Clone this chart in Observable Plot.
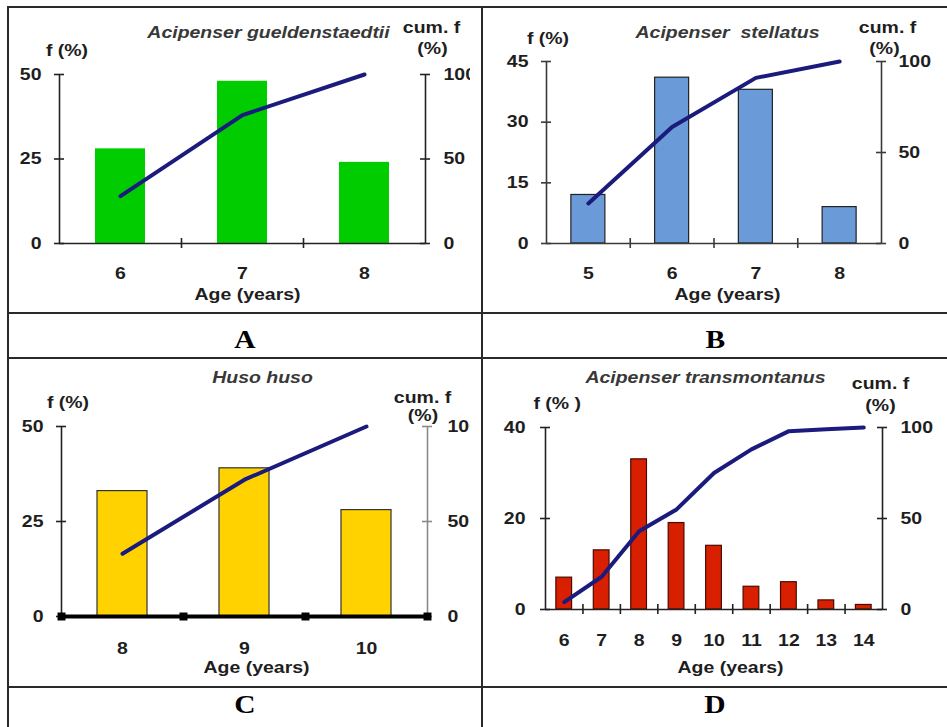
<!DOCTYPE html>
<html><head><meta charset="utf-8">
<script src="https://cdn.jsdelivr.net/npm/d3@7"></script>
<script src="https://cdn.jsdelivr.net/npm/@observablehq/plot@0.6"></script>
<style>
body{margin:0;background:#fff;width:947px;height:727px;overflow:hidden;position:relative;font-family:"Liberation Sans",Arial,sans-serif;}
.ln{position:absolute;background:#2a2a2a;}
.cell{position:absolute;}
.lab{position:absolute;font-family:"Liberation Serif","Times New Roman",serif;font-weight:bold;font-size:25px;line-height:25px;text-align:center;color:#000;}
.lab span{display:inline-block;transform:scaleX(1.18);}
</style></head><body>
<script>
// ---------- data ----------
const agesA = [6, 7, 8];
const fA = [28, 48, 24];
const cumA = [28, 76, 100];

const agesB = [5, 6, 7, 8];
const fB = [12, 41, 38, 9];
const cumB = [22, 64, 91, 100];

const agesC = [8, 9, 10];
const fC = [33, 39, 28];
const cumC = [33, 72, 100];

const agesD = [6, 7, 8, 9, 10, 11, 12, 13, 14];
const fD = [7, 13, 33, 19, 14, 5, 6, 2, 1];
const cumD = [4, 18, 43, 55, 75, 88, 98, 99, 100];

const fTicksA = [0, 25, 50];
const fTicksB = [0, 15, 30, 45];
const fTicksC = [0, 25, 50];
const fTicksD = [0, 20, 40];
const cumTicks = [0, 50, 100];

const titles = ["Acipenser gueldenstaedtii", "Acipenser  stellatus", "Huso huso", "Acipenser transmontanus"];
const panelLetters = ["A", "B", "C", "D"];
const fLabels = ["f (%)", "f (%)", "f (%)", "f (% )"];
const cumLabel1 = "cum. f";
const cumLabel2 = "(%)";
const xLabel = "Age (years)";

// ---------- layout ----------
const STRETCH = 1.18;
const panels = [
  {ages: agesA, f: fA, cum: cumA, fTicks: fTicksA, left: 9, top: 8, width: 461, height: 305,
   mL: 50, mR: 45, mT: 66, mB: 70, half: 0.205, fill: "#00cc00", stroke: "none",
   axis: "#222", rAxis: "#222", lpad: 18, rpad: 18, xpad: 24,
   titleXY: [259, 24.6], cum1XY: [422, 19.6], cum2XY: [423, 40.6], fXY: [57.5, 42.3], xTitleXY: [238, 286]},
  {ages: agesB, f: fB, cum: cumB, fTicks: fTicksB, left: 483, top: 8, width: 464, height: 305,
   mL: 63, mR: 66, mT: 53, mB: 70, half: 0.203, fill: "#6a9bd8", stroke: "#222",
   axis: "#3a3a3a", rAxis: "#3a3a3a", lpad: 18, rpad: 17, xpad: 24,
   titleXY: [244, 23.8], cum1XY: [404, 19], cum2XY: [401, 40.6], fXY: [64.5, 30.7], xTitleXY: [244, 286]},
  {ages: agesC, f: fC, cum: cumC, fTicks: fTicksC, left: 9, top: 360, width: 461, height: 327,
   mL: 52, mR: 43, mT: 66, mB: 71, half: 0.205, fill: "#ffd200", stroke: "#333",
   axis: "#222", rAxis: "#8a8a8a", lpad: 18, rpad: 20, xpad: 25.5, thick: true,
   titleXY: [253, 16.8], cum1XY: [413, 37], cum2XY: [413.5, 55.3], fXY: [58.5, 42], xTitleXY: [247, 306.8]},
  {ages: agesD, f: fD, cum: cumD, fTicks: fTicksD, left: 483, top: 360, width: 464, height: 327,
   mL: 62, mR: 65, mT: 67, mB: 78, half: 0.21, fill: "#d82000", stroke: "#4a0a00",
   axis: "#222", rAxis: "#222", lpad: 20, rpad: 18, xpad: 24.7,
   titleXY: [222, 16.8], cum1XY: [397, 23.6], cum2XY: [397, 45.3], fXY: [73.7, 43.6], xTitleXY: [247, 306.8]}
];

// ---------- table lines ----------
const lines = [
  {l: 7, t: 6, w: 940, h: 2}, {l: 7, t: 6, w: 2, h: 721}, {l: 481, t: 6, w: 2, h: 721},
  {l: 7, t: 312, w: 940, h: 2}, {l: 7, t: 357, w: 940, h: 2}, {l: 7, t: 686, w: 940, h: 2}
];
for (const s of lines) {
  const d = document.createElement("div");
  d.className = "ln";
  Object.assign(d.style, {left: s.l + "px", top: s.t + "px", width: s.w + "px", height: s.h + "px"});
  document.body.appendChild(d);
}
const labPos = [{l: 9, t: 327, w: 472}, {l: 483, t: 327, w: 464}, {l: 9, t: 692, w: 472}, {l: 483, t: 692, w: 464}];
labPos.forEach((p, i) => {
  const d = document.createElement("div");
  d.className = "lab";
  Object.assign(d.style, {left: p.l + "px", top: p.t + "px", width: p.w + "px"});
  d.innerHTML = "<span>" + panelLetters[i] + "</span>";
  document.body.appendChild(d);
});

// ---------- charts ----------
panels.forEach((p, i) => {
  const rows = p.ages.map((a, k) => ({age: a, f: p.f[k], cum: p.cum[k]}));
  const fMax = p.fTicks[p.fTicks.length - 1];
  const xmin = p.ages[0] - 0.5, xmax = p.ages[p.ages.length - 1] + 0.5;
  const inner = p.ages.slice(1).map(a => a - 0.5);
  const rightTicks = cumTicks.map(c => c * fMax / 100);
  const txt = (s, xy, extra = {}) => Plot.text([s], {text: d => d, frameAnchor: "top-left",
    dx: xy[0] - p.mL, dy: xy[1] - p.mT, textAnchor: "middle", lineAnchor: "middle", ...extra});

  const marks = [
    Plot.rectY(rows, {x1: d => d.age - p.half, x2: d => d.age + p.half, y1: 0, y2: "f",
      fill: p.fill, stroke: p.stroke, strokeWidth: 1.2}),
    Plot.ruleX([xmin], {y1: 0, y2: fMax, stroke: p.axis, strokeWidth: 1.6}),
    Plot.ruleX([xmax], {y1: 0, y2: fMax, stroke: p.rAxis, strokeWidth: 1.6}),
    Plot.ruleY(p.fTicks, {x1: xmin, x2: xmin, insetLeft: -5, insetRight: -5, stroke: p.axis, strokeWidth: 1.6}),
    Plot.ruleY(rightTicks, {x1: xmax, x2: xmax, insetLeft: -5, insetRight: -5, stroke: p.rAxis, strokeWidth: 1.6}),
  ];
  if (p.thick) {
    marks.push(Plot.ruleY([0], {x1: xmin, x2: xmax, insetLeft: -3, insetRight: -1, stroke: "#000", strokeWidth: 4}));
    marks.push(Plot.dot([xmin, ...inner, xmax], {x: d => d, y: 0, symbol: "square", r: 4.5, fill: "#000", stroke: "none"}));
  } else {
    marks.push(Plot.ruleY([0], {x1: xmin, x2: xmax, stroke: p.axis, strokeWidth: 1.6}));
    marks.push(Plot.ruleX(inner, {y1: 0, y2: 0, insetTop: -5, insetBottom: -5, stroke: p.axis, strokeWidth: 1.6}));
  }
  marks.push(
    Plot.line(rows, {x: "age", y: d => d.cum * fMax / 100, stroke: "#1b1b7e", strokeWidth: 4, strokeLinecap: "round", strokeLinejoin: "round"}),
    Plot.axisY(p.fTicks, {anchor: "left", tickSize: 0, tickPadding: p.lpad, label: null}),
    Plot.axisY(rightTicks, {anchor: "right", tickSize: 0, tickPadding: p.rpad, label: null, tickFormat: v => String(Math.round(v * 100 / fMax))}),
    Plot.axisX(p.ages, {tickSize: 0, tickPadding: p.xpad, label: null, tickFormat: d => String(d)}),
    txt(titles[i], p.titleXY, {fontStyle: "italic", fill: "#383838"}),
    txt(cumLabel1, p.cum1XY),
    txt(cumLabel2, p.cum2XY),
    txt(fLabels[i], p.fXY),
    txt(xLabel, p.xTitleXY)
  );

  const svg = Plot.plot({
    width: p.width, height: p.height,
    marginLeft: p.mL, marginRight: p.mR, marginTop: p.mT, marginBottom: p.mB,
    x: {type: "linear", domain: [xmin, xmax], axis: null},
    y: {domain: [0, fMax], axis: null},
    style: {fontFamily: '"Liberation Sans", Arial, sans-serif', fontSize: "16.5px", fontWeight: "bold",
      color: "#1e1e1e", background: "transparent", overflow: "hidden"},
    marks
  });
  const holder = document.createElement("div");
  holder.className = "cell";
  Object.assign(holder.style, {left: p.left + "px", top: p.top + "px", width: p.width + "px", height: p.height + "px", overflow: "hidden"});
  holder.appendChild(svg);
  document.body.appendChild(holder);

  // horizontal stretch of the text, as in the reference
  svg.querySelectorAll("text").forEach(t => {
    const spans = t.querySelectorAll("tspan");
    const targets = spans.length ? Array.from(spans) : [t];
    targets.forEach(el => {
      const L = el.getComputedTextLength();
      if (L > 0) {
        el.setAttribute("textLength", (L * STRETCH).toFixed(2));
        el.setAttribute("lengthAdjust", "spacingAndGlyphs");
      }
    });
  });
});
</script>
</body></html>
